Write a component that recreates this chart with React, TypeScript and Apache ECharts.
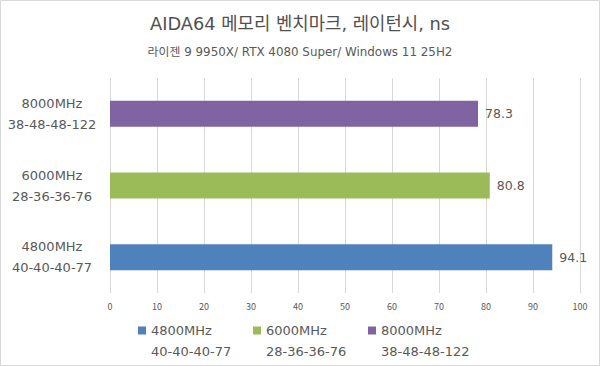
import React, { useEffect, useRef } from "react";
import * as echarts from "echarts";

const categories = ["4800MHz", "6000MHz", "8000MHz"];
const timings = ["40-40-40-77", "28-36-36-76", "38-48-48-122"];
const latency = [94.1, 80.8, 78.3];
const colors = ["#4f81bd", "#9bbb59", "#8064a2"];
const xMin = 0;
const xMax = 100;
const xInterval = 10;
const titleText = "AIDA64 메모리 벤치마크, 레이턴시, ns";
const subText = "라이젠 9 9950X/ RTX 4080 Super/ Windows 11 25H2";

const FONT = "'Noto Sans CJK KR', 'Noto Sans', sans-serif";
const LFONT = "'DejaVu Sans', 'Noto Sans CJK KR', sans-serif";
const TEXT = "#595959";

export default function App() {
  const ref = useRef<HTMLDivElement>(null);
  useEffect(() => {
    if (!ref.current) return;
    const chart = echarts.init(ref.current, null, { renderer: "svg" });
    const timingOf = (name: string) => timings[categories.indexOf(name)];
    chart.setOption({
      animation: false,
      backgroundColor: "#ffffff",
      textStyle: { fontFamily: LFONT, color: TEXT },
      title: {
        text: titleText,
        subtext: subText,
        left: "center",
        top: 15,
        padding: 0,
        itemGap: 13,
        textStyle: { fontFamily: LFONT, fontSize: 17.8, fontWeight: "normal", color: "#505050" },
        subtextStyle: { fontFamily: LFONT, fontSize: 11.9, color: TEXT },
      },
      graphic: [
        {
          type: "rect",
          shape: { x: 0.5, y: 0.5, width: 599, height: 365 },
          style: { fill: "none", stroke: "#d9d9d9", lineWidth: 1 },
          silent: true,
        },
      ],
      grid: { left: 110, right: 20, top: 78, bottom: 73, containLabel: false },
      xAxis: {
        type: "value",
        min: xMin,
        max: xMax,
        interval: xInterval,
        axisLine: { show: false },
        axisTick: { show: false },
        axisLabel: { fontFamily: FONT, fontSize: 9, color: TEXT, margin: 9 },
        splitLine: { show: true, lineStyle: { color: "#d9d9d9", width: 1 } },
      },
      yAxis: {
        type: "category",
        data: categories,
        axisLine: { show: false },
        axisTick: { show: false },
        axisLabel: {
          margin: 58,
          align: "center",
          formatter: (v: string) => `${v}\n${timingOf(v)}`,
          fontFamily: LFONT,
          fontSize: 13,
          lineHeight: 21,
          color: TEXT,
        },
      },
      legend: {
        data: categories,
        left: 138,
        top: 303,
        itemWidth: 8,
        itemHeight: 8,
        itemGap: 6,
        icon: "rect",
        padding: 0,
        formatter: (name: string) => `{e| }\n{a|${name}}\n{b|${timingOf(name)}}`,
        textStyle: {
          fontFamily: LFONT,
          color: TEXT,
          rich: {
            e: { fontSize: 13, lineHeight: 21, width: 96, fontFamily: LFONT },
            a: { fontSize: 13, lineHeight: 21, width: 96, fontFamily: LFONT, color: TEXT },
            b: { fontSize: 13, lineHeight: 21, width: 96, fontFamily: LFONT, color: TEXT },
          },
        },
      },
      series: categories.map((name, i) => ({
        name,
        type: "bar",
        stack: "total",
        barWidth: 26,
        itemStyle: { color: colors[i] },
        label: {
          show: true,
          position: "right",
          distance: 7,
          fontFamily: LFONT,
          fontSize: 12.5,
          color: TEXT,
        },
        data: categories.map((_, j) => (j === i ? latency[i] : "-")),
      })),
    });
    return () => chart.dispose();
  }, []);
  return (
    <div
      ref={ref}
      style={{ position: "fixed", left: 0, top: 0, width: 600, height: 366 }}
    />
  );
}
